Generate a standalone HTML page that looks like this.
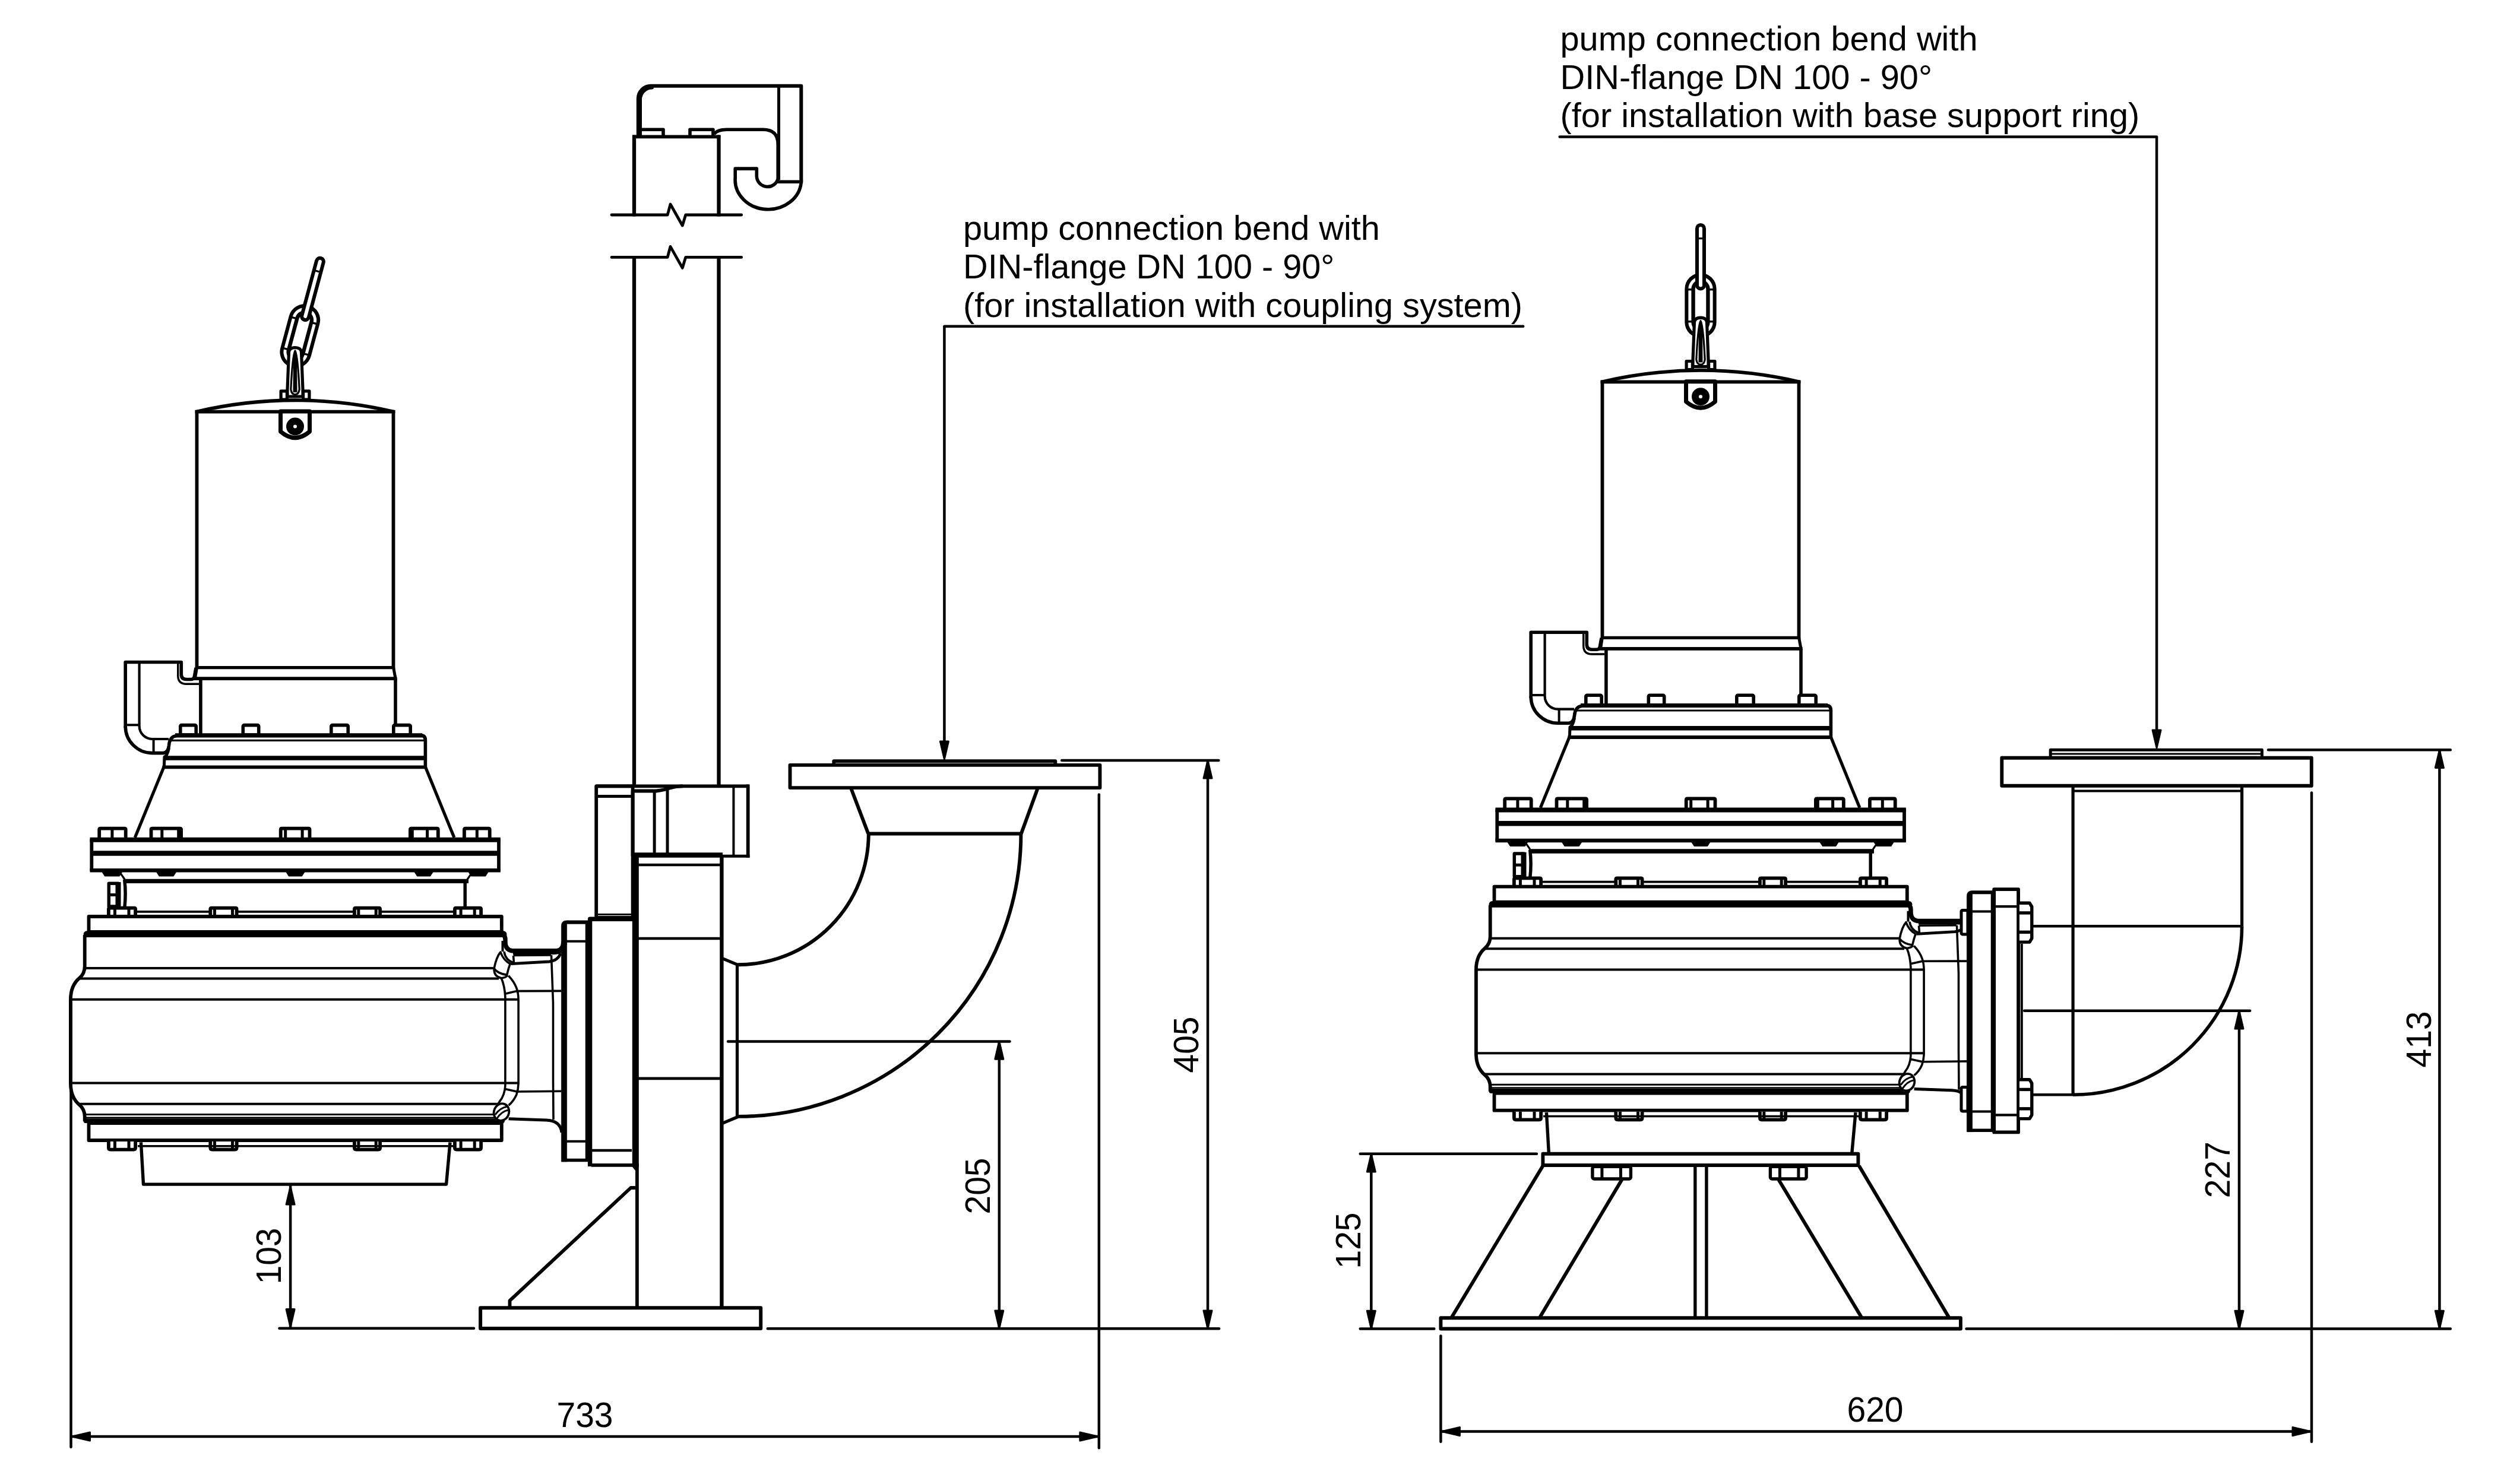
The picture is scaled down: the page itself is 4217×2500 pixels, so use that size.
<!DOCTYPE html>
<html><head><meta charset="utf-8"><title>Pump installation dimensions</title>
<style>
html,body{margin:0;padding:0;background:#fff;}
svg{display:block;}
text{font-family:"Liberation Sans",Arial,Helvetica,sans-serif;}
</style></head>
<body>
<svg width="4217" height="2500" viewBox="0 0 4217 2500" stroke="#000" fill="none" stroke-linejoin="round">
<rect x="0" y="0" width="4217" height="2500" fill="#fff" stroke="none"/>
<g id="left">
<g transform="translate(0 0)">
<rect x="473.1" y="658.8" width="10.3" height="14.2" rx="0" stroke-width="5.2" fill="#fff"/>
<rect x="510.6" y="658.8" width="10.3" height="14.2" rx="0" stroke-width="5.2" fill="#fff"/>
<g transform="rotate(15 497 597)">
<line x1="497" y1="537" x2="497" y2="593" stroke="#000" stroke-width="53.3" stroke-linecap="round"/>
<line x1="497" y1="537" x2="497" y2="593" stroke="#fff" stroke-width="41.2" stroke-linecap="round"/>
<line x1="497" y1="537" x2="497" y2="593" stroke="#000" stroke-width="31.2" stroke-linecap="round"/>
<line x1="497" y1="537" x2="497" y2="593" stroke="#fff" stroke-width="18.5" stroke-linecap="round"/>
<line x1="471.0" y1="538.0" x2="485.0" y2="538.0" stroke-width="3.4" stroke-linecap="butt"/>
<line x1="509.0" y1="538.0" x2="523.0" y2="538.0" stroke-width="3.4" stroke-linecap="butt"/>
<line x1="471.0" y1="592.0" x2="485.0" y2="592.0" stroke-width="3.4" stroke-linecap="butt"/>
<line x1="509.0" y1="592.0" x2="523.0" y2="592.0" stroke-width="3.4" stroke-linecap="butt"/>
<line x1="497" y1="435.2" x2="497" y2="530.7" stroke="#000" stroke-width="18" stroke-linecap="round"/>
<line x1="497" y1="435.2" x2="497" y2="530.7" stroke="#fff" stroke-width="6" stroke-linecap="round"/>
<line x1="493.0" y1="452.0" x2="501.0" y2="452.0" stroke-width="3.2" stroke-linecap="butt"/>
</g>
<path d="M484,656 L486.5,593 Q487,586 497,585.5 Q507,586 507.5,593 L510,656 L510,668 L484,668 Z" stroke-width="5.2" fill="#fff" />
<path d="M497,591 Q492.5,600 489.8,656 Q491,664.5 497,664.5 Q503,664.5 504.2,656 Q501.5,600 497,591 Z" stroke-width="3.2" fill="#fff" />
<path d="M497,594 L494.8,612 L494.4,660 L499.6,660 L499.2,612 Z" stroke-width="1.8" fill="#000" />
<path d="M331,693.5 Q497,655 663,693.5" stroke-width="5.8" fill="#fff" />
<line x1="328.6" y1="693.7" x2="665.4" y2="693.7" stroke-width="5.8" stroke-linecap="butt"/>
<line x1="331.5" y1="691.0" x2="331.5" y2="1127.0" stroke-width="5.8" stroke-linecap="butt"/>
<line x1="662.5" y1="691.0" x2="662.5" y2="1127.0" stroke-width="5.8" stroke-linecap="butt"/>
<path d="M472.5,693 L472.5,727 Q497,748 521.5,727 L521.5,693 Z" stroke-width="7" fill="#fff" />
<circle cx="497" cy="718.5" r="15" fill="#000" stroke="none"/>
<circle cx="497" cy="718.5" r="3" fill="#fff" stroke="none"/>
<line x1="331.0" y1="1124.7" x2="663.0" y2="1124.7" stroke-width="5.2" stroke-linecap="butt"/>
<line x1="331.5" y1="1124.0" x2="328.5" y2="1143.0" stroke-width="5" stroke-linecap="butt"/>
<line x1="662.5" y1="1124.0" x2="666.0" y2="1143.0" stroke-width="5" stroke-linecap="butt"/>
<line x1="326.0" y1="1143.2" x2="668.5" y2="1143.2" stroke-width="5.8" stroke-linecap="butt"/>
<line x1="337.9" y1="1143.0" x2="337.9" y2="1237.0" stroke-width="5.6" stroke-linecap="butt"/>
<line x1="666.0" y1="1143.0" x2="666.0" y2="1237.0" stroke-width="5.6" stroke-linecap="butt"/>
<path d="M211.2,1226 L211.2,1115.5 L305.3,1115.5 L305.3,1136 Q305.3,1144.5 314,1144.5 L322,1144.5 Q326.5,1144.5 327.5,1139 L330,1125" stroke-width="5.6" fill="none" />
<path d="M211.2,1223.5 A45.3,45.1 0 0 0 256.5,1268.6 L275,1268.6 Q283,1268 284.5,1256 Q285.5,1241 297,1239.5" stroke-width="5.6" fill="none" />
<path d="M299.7,1117 L299.7,1138 Q299.7,1152.3 314,1152.3 L335,1152.3" stroke-width="3.4" fill="none" />
<path d="M234.6,1117 L234.6,1223 A21.9,22 0 0 0 256.5,1245 L284,1245" stroke-width="4.2" fill="none" />
<line x1="211.0" y1="1221.3" x2="235.0" y2="1221.3" stroke-width="4" stroke-linecap="butt"/>
<line x1="258.6" y1="1245.0" x2="258.6" y2="1268.0" stroke-width="4" stroke-linecap="butt"/>
<rect x="303.8" y="1221.6" width="26.4" height="16.4" rx="2" stroke-width="5.6" fill="#fff"/>
<rect x="409.3" y="1221.6" width="26.4" height="16.4" rx="2" stroke-width="5.6" fill="#fff"/>
<rect x="557.8" y="1221.6" width="28.4" height="16.4" rx="2" stroke-width="5.6" fill="#fff"/>
<rect x="662.8" y="1221.6" width="28.4" height="16.4" rx="2" stroke-width="5.6" fill="#fff"/>
<line x1="295.0" y1="1238.8" x2="711.0" y2="1238.8" stroke-width="7.2" stroke-linecap="butt"/>
<path d="M708,1238.6 Q716.4,1238.6 716.4,1247 L716.4,1293" stroke-width="5.6" fill="none" />
<line x1="288.0" y1="1247.3" x2="716.0" y2="1247.3" stroke-width="3.2" stroke-linecap="butt"/>
<line x1="276.0" y1="1277.0" x2="718.5" y2="1277.0" stroke-width="7.5" stroke-linecap="butt"/>
<line x1="273.5" y1="1292.3" x2="719.0" y2="1292.3" stroke-width="5.8" stroke-linecap="butt"/>
<path d="M284.5,1260 Q282,1273 277,1275 L276.3,1293" stroke-width="5" fill="none" />
<line x1="276.0" y1="1292.0" x2="227.3" y2="1411.0" stroke-width="5.2" stroke-linecap="butt"/>
<line x1="716.4" y1="1292.0" x2="764.9" y2="1411.0" stroke-width="5.2" stroke-linecap="butt"/>
<path d="M167.20000000000002,1412 L167.20000000000002,1397.6000000000001 Q167.20000000000002,1395.6000000000001 169.20000000000002,1395.6000000000001 L209.7,1395.6000000000001 Q211.7,1395.6000000000001 211.7,1397.6000000000001 L211.7,1412" stroke-width="5.8" fill="#fff" />
<line x1="188.9" y1="1395.6" x2="188.9" y2="1412.0" stroke-width="5" stroke-linecap="butt"/>
<path d="M254.5,1412 L254.5,1397.6000000000001 Q254.5,1395.6000000000001 256.5,1395.6000000000001 L303.1,1395.6000000000001 Q305.1,1395.6000000000001 305.1,1397.6000000000001 L305.1,1412" stroke-width="5.8" fill="#fff" />
<line x1="272.8" y1="1395.6" x2="272.8" y2="1412.0" stroke-width="5" stroke-linecap="butt"/>
<line x1="300.7" y1="1395.6" x2="300.7" y2="1412.0" stroke-width="5" stroke-linecap="butt"/>
<path d="M472.7,1412 L472.7,1397.6000000000001 Q472.7,1395.6000000000001 474.7,1395.6000000000001 L519.5,1395.6000000000001 Q521.5,1395.6000000000001 521.5,1397.6000000000001 L521.5,1412" stroke-width="5.8" fill="#fff" />
<line x1="480.7" y1="1395.6" x2="480.7" y2="1412.0" stroke-width="5" stroke-linecap="butt"/>
<line x1="509.1" y1="1395.6" x2="509.1" y2="1412.0" stroke-width="5" stroke-linecap="butt"/>
<path d="M690.9,1412 L690.9,1397.6000000000001 Q690.9,1395.6000000000001 692.9,1395.6000000000001 L735.8000000000001,1395.6000000000001 Q737.8000000000001,1395.6000000000001 737.8000000000001,1397.6000000000001 L737.8000000000001,1412" stroke-width="5.8" fill="#fff" />
<line x1="694.3" y1="1395.6" x2="694.3" y2="1412.0" stroke-width="5" stroke-linecap="butt"/>
<line x1="719.6" y1="1395.6" x2="719.6" y2="1412.0" stroke-width="5" stroke-linecap="butt"/>
<path d="M781.9,1412 L781.9,1397.6000000000001 Q781.9,1395.6000000000001 783.9,1395.6000000000001 L822.7,1395.6000000000001 Q824.7,1395.6000000000001 824.7,1397.6000000000001 L824.7,1412" stroke-width="5.8" fill="#fff" />
<line x1="803.3" y1="1395.6" x2="803.3" y2="1412.0" stroke-width="5" stroke-linecap="butt"/>
<rect x="154.3" y="1414.8" width="685.7" height="51.3" rx="0" stroke-width="5.8" fill="#fff"/>
<line x1="151.5" y1="1414.8" x2="842.8" y2="1414.8" stroke-width="7.9" stroke-linecap="butt"/>
<line x1="154.0" y1="1437.6" x2="840.0" y2="1437.6" stroke-width="8.5" stroke-linecap="butt"/>
<line x1="151.5" y1="1466.3" x2="842.8" y2="1466.3" stroke-width="6.4" stroke-linecap="butt"/>
<path d="M172.1,1468.5 L205.5,1468.5 L201.0,1475.6 L176.6,1475.6 Z" stroke-width="1.6" fill="#000" />
<path d="M263.7,1468.5 L296.5,1468.5 L292.0,1475.6 L268.2,1475.6 Z" stroke-width="1.6" fill="#000" />
<path d="M482,1468.5 L512.8,1468.5 L508.29999999999995,1475.6 L486.5,1475.6 Z" stroke-width="1.6" fill="#000" />
<path d="M698.2,1468.5 L729,1468.5 L724.5,1475.6 L702.7,1475.6 Z" stroke-width="1.6" fill="#000" />
<path d="M789.2,1468.5 L822,1468.5 L817.5,1475.6 L793.7,1475.6 Z" stroke-width="1.6" fill="#000" />
<line x1="207.9" y1="1484.3" x2="789.0" y2="1484.3" stroke-width="7.3" stroke-linecap="butt"/>
<line x1="203.5" y1="1472.0" x2="210.0" y2="1481.5" stroke-width="3.2" stroke-linecap="butt"/>
<line x1="793.5" y1="1472.0" x2="787.0" y2="1481.5" stroke-width="3.2" stroke-linecap="butt"/>
<path d="M209.7,1482 Q212.5,1505 209.7,1530" stroke-width="5.5" fill="none" />
<line x1="783.2" y1="1482.0" x2="783.2" y2="1530.0" stroke-width="5.5" stroke-linecap="butt"/>
<line x1="231.0" y1="1535.9" x2="763.0" y2="1535.9" stroke-width="3.6" stroke-linecap="butt"/>
<rect x="183.3" y="1488.2" width="15.7" height="38.8" rx="0" stroke-width="5.5" fill="#fff"/>
<line x1="199.0" y1="1486.0" x2="199.0" y2="1529.0" stroke-width="9" stroke-linecap="butt"/>
<line x1="184.0" y1="1507.5" x2="196.0" y2="1507.5" stroke-width="5" stroke-linecap="butt"/>
<path d="M182.9,1542 L182.9,1531.7 Q182.9,1529.7 184.9,1529.7 L226.1,1529.7 Q228.1,1529.7 228.1,1531.7 L228.1,1542" stroke-width="5.8" fill="#fff" />
<line x1="193.4" y1="1529.7" x2="193.4" y2="1542.0" stroke-width="5" stroke-linecap="butt"/>
<line x1="217.0" y1="1529.7" x2="217.0" y2="1542.0" stroke-width="5" stroke-linecap="butt"/>
<path d="M354.29999999999995,1542 L354.29999999999995,1531.7 Q354.29999999999995,1529.7 356.29999999999995,1529.7 L396.6,1529.7 Q398.6,1529.7 398.6,1531.7 L398.6,1542" stroke-width="5.8" fill="#fff" />
<line x1="361.4" y1="1529.7" x2="361.4" y2="1542.0" stroke-width="5" stroke-linecap="butt"/>
<line x1="391.5" y1="1529.7" x2="391.5" y2="1542.0" stroke-width="5" stroke-linecap="butt"/>
<path d="M596.9,1542 L596.9,1531.7 Q596.9,1529.7 598.9,1529.7 L638.1,1529.7 Q640.1,1529.7 640.1,1531.7 L640.1,1542" stroke-width="5.8" fill="#fff" />
<line x1="603.8" y1="1529.7" x2="603.8" y2="1542.0" stroke-width="5" stroke-linecap="butt"/>
<line x1="633.2" y1="1529.7" x2="633.2" y2="1542.0" stroke-width="5" stroke-linecap="butt"/>
<path d="M765.9,1542 L765.9,1531.7 Q765.9,1529.7 767.9,1529.7 L808.1,1529.7 Q810.1,1529.7 810.1,1531.7 L810.1,1542" stroke-width="5.8" fill="#fff" />
<line x1="776.1" y1="1529.7" x2="776.1" y2="1542.0" stroke-width="5" stroke-linecap="butt"/>
<line x1="799.2" y1="1529.7" x2="799.2" y2="1542.0" stroke-width="5" stroke-linecap="butt"/>
<rect x="149.5" y="1544.0" width="695.3" height="26.0" rx="0" stroke-width="5.8" fill="#fff"/>
<line x1="146.0" y1="1573.7" x2="848.0" y2="1573.7" stroke-width="10.8" stroke-linecap="round"/>
<path d="M142.7,1575 L142.7,1628 Q142.7,1640 134,1647.5 Q118.9,1660 118.9,1684 L118.9,1825 Q118.9,1849 134,1861.5 Q142.7,1869 142.7,1881 L142.7,1889" stroke-width="5.8" fill="#fff" />
<line x1="142.0" y1="1631.0" x2="832.0" y2="1631.0" stroke-width="4.0" stroke-linecap="butt"/>
<line x1="134.0" y1="1648.5" x2="840.0" y2="1648.5" stroke-width="4.0" stroke-linecap="butt"/>
<line x1="118.9" y1="1683.8" x2="873.0" y2="1683.8" stroke-width="4.0" stroke-linecap="butt"/>
<line x1="118.9" y1="1824.6" x2="873.0" y2="1824.6" stroke-width="4.0" stroke-linecap="butt"/>
<line x1="134.0" y1="1859.7" x2="840.0" y2="1859.7" stroke-width="4.0" stroke-linecap="butt"/>
<line x1="142.0" y1="1877.5" x2="838.0" y2="1877.5" stroke-width="3" stroke-linecap="butt"/>
<line x1="142.0" y1="1882.8" x2="838.0" y2="1882.8" stroke-width="2.6" stroke-linecap="butt"/>
<line x1="144.5" y1="1888.2" x2="846.0" y2="1888.2" stroke-width="7.8" stroke-linecap="round"/>
<rect x="149.5" y="1892.0" width="695.3" height="29.0" rx="0" stroke-width="5.8" fill="#fff"/>
<path d="M182.9,1923 L182.9,1933.6 Q182.9,1936.6 185.9,1936.6 L225.1,1936.6 Q228.1,1936.6 228.1,1933.6 L228.1,1923" stroke-width="5.8" fill="#fff" />
<line x1="193.4" y1="1923.0" x2="193.4" y2="1936.6" stroke-width="5" stroke-linecap="butt"/>
<line x1="217.0" y1="1923.0" x2="217.0" y2="1936.6" stroke-width="5" stroke-linecap="butt"/>
<path d="M354.29999999999995,1923 L354.29999999999995,1933.6 Q354.29999999999995,1936.6 357.29999999999995,1936.6 L395.6,1936.6 Q398.6,1936.6 398.6,1933.6 L398.6,1923" stroke-width="5.8" fill="#fff" />
<line x1="361.4" y1="1923.0" x2="361.4" y2="1936.6" stroke-width="5" stroke-linecap="butt"/>
<line x1="391.5" y1="1923.0" x2="391.5" y2="1936.6" stroke-width="5" stroke-linecap="butt"/>
<path d="M596.9,1923 L596.9,1933.6 Q596.9,1936.6 599.9,1936.6 L637.1,1936.6 Q640.1,1936.6 640.1,1933.6 L640.1,1923" stroke-width="5.8" fill="#fff" />
<line x1="603.8" y1="1923.0" x2="603.8" y2="1936.6" stroke-width="5" stroke-linecap="butt"/>
<line x1="633.2" y1="1923.0" x2="633.2" y2="1936.6" stroke-width="5" stroke-linecap="butt"/>
<path d="M765.9,1923 L765.9,1933.6 Q765.9,1936.6 768.9,1936.6 L807.1,1936.6 Q810.1,1936.6 810.1,1933.6 L810.1,1923" stroke-width="5.8" fill="#fff" />
<line x1="776.1" y1="1923.0" x2="776.1" y2="1936.6" stroke-width="5" stroke-linecap="butt"/>
<line x1="799.2" y1="1923.0" x2="799.2" y2="1936.6" stroke-width="5" stroke-linecap="butt"/>
<path d="M237.4,1924.4 L241.5,1995.1 L751.6,1995.1 L758,1924.4" stroke-width="5.4" fill="none" />
<line x1="232.0" y1="1930.8" x2="763.0" y2="1930.8" stroke-width="3.4" stroke-linecap="butt"/>
<path d="M843,1573.7 Q851,1573.7 851,1583 L851,1587 Q851,1602 866,1602" stroke-width="7.4" fill="none" />
<path d="M864,1603 L934,1603 Q950,1603 950,1586" stroke-width="9.8" fill="none" />
<line x1="846.5" y1="1585.0" x2="846.5" y2="1603.0" stroke-width="4" stroke-linecap="butt"/>
<path d="M842.9,1604 Q836,1612 832.1,1631.6 Q838,1640 853.7,1642.4 Q856,1632 859.1,1623.6 Q848,1618 842.9,1604 Z" stroke-width="3.6" fill="none" />
<path d="M849,1603 Q851,1617 864.5,1622" stroke-width="3.6" fill="none" />
<path d="M864.5,1609.5 L927.8,1609" stroke-width="3.6" fill="none" />
<path d="M860.4,1623.6 L925,1620 Q940,1618 944,1606" stroke-width="4.8" fill="none" />
<path d="M864.5,1610 L865.5,1622" stroke-width="3.6" fill="none" />
<path d="M832.1,1633 Q832,1645 844.3,1647.8 Q852,1647 855,1643" stroke-width="3.6" fill="none" />
<path d="M844.3,1647.8 Q850,1661 850.9,1680 L850.9,1829 Q850,1845 841.5,1855.5 Q836,1864 832.5,1871" stroke-width="3.6" fill="none" />
<path d="M856.4,1643.8 Q866,1654 869.8,1664.4 Q873,1673 873.1,1684 L873.1,1825 Q873,1835 869.8,1844.2 Q865,1855 856.6,1862" stroke-width="3.6" fill="none" />
<path d="M851.4,1673.9 L870.8,1669.6 L945.5,1669.4" stroke-width="3.6" fill="none" />
<path d="M851.4,1834.7 L870.8,1839 L945.5,1838.2" stroke-width="3.6" fill="none" />
<path d="M928.5,1609 Q930,1650 931.5,1690 L931.5,1820 Q931.8,1860 932,1886" stroke-width="3.6" fill="none" />
<ellipse cx="844.5" cy="1873.5" rx="12.6" ry="14.5" fill="#fff" stroke-width="3.8" transform="rotate(20 844.5 1873.5)"/>
<path d="M834,1878 Q842,1866 855,1864" stroke-width="3" fill="none" />
<path d="M837,1884 Q845,1872 856,1870" stroke-width="3" fill="none" />
<path d="M856.6,1884.7 L920,1887 Q944,1888 946,1908" stroke-width="5.0" fill="none" />
<line x1="845.1" y1="1889.0" x2="845.1" y2="1892.0" stroke-width="5" stroke-linecap="butt"/>
<path d="M945.3,1957 L945.3,1560 Q945.3,1550.8 954.5,1550.8 L990,1550.8 L990,1556.4 L954.7,1556.4 L954.7,1957 Z" stroke-width="0.5" fill="#000" />
<line x1="954.0" y1="1585.8" x2="988.0" y2="1585.8" stroke-width="4" stroke-linecap="butt"/>
<line x1="954.0" y1="1922.8" x2="988.0" y2="1922.8" stroke-width="4" stroke-linecap="butt"/>
<line x1="988.0" y1="1551.0" x2="988.0" y2="1956.5" stroke-width="4.5" stroke-linecap="butt"/>
<line x1="946.0" y1="1954.6" x2="990.0" y2="1954.6" stroke-width="5.5" stroke-linecap="butt"/>
</g>
<rect x="1004.2" y="1324.3" width="61.4" height="221.7" rx="0" stroke-width="5.8" fill="none"/>
<line x1="1004.0" y1="1341.5" x2="1066.0" y2="1341.5" stroke-width="5" stroke-linecap="butt"/>
<line x1="1004.0" y1="1540.5" x2="1066.0" y2="1540.5" stroke-width="3" stroke-linecap="butt"/>
<path d="M993.6,1965 L993.6,1548.3 L1066,1548.3" stroke-width="7.4" fill="none" />
<line x1="996.0" y1="1962.8" x2="1066.0" y2="1962.8" stroke-width="5.8" stroke-linecap="butt"/>
<line x1="996.0" y1="1937.9" x2="1064.0" y2="1937.9" stroke-width="4.5" stroke-linecap="butt"/>
<path d="M1004,1324.3 L1261,1324.3" stroke-width="5.8" fill="none" />
<path d="M1065.6,1442 L1065.6,1332.5 L1105,1332.5 Q1118,1331 1128,1327.5 Q1138,1324.5 1150,1324.3" stroke-width="5.8" fill="none" />
<line x1="1259.7" y1="1321.5" x2="1259.7" y2="1445.0" stroke-width="5.8" stroke-linecap="butt"/>
<line x1="1063.0" y1="1440.5" x2="1217.0" y2="1440.5" stroke-width="8.5" stroke-linecap="butt"/>
<line x1="1215.0" y1="1442.2" x2="1262.5" y2="1442.2" stroke-width="5" stroke-linecap="butt"/>
<line x1="1102.1" y1="1333.0" x2="1102.1" y2="1438.0" stroke-width="5" stroke-linecap="butt"/>
<line x1="1124.0" y1="1330.0" x2="1124.0" y2="1438.0" stroke-width="5" stroke-linecap="butt"/>
<line x1="1235.4" y1="1326.0" x2="1235.4" y2="1441.0" stroke-width="4" stroke-linecap="butt"/>
<line x1="1070.3" y1="1442.0" x2="1070.3" y2="1966.0" stroke-width="11" stroke-linecap="butt"/>
<path d="M1065.5,1962 L1072.9,1971" stroke-width="5.8" fill="none" />
<line x1="1072.9" y1="1960.0" x2="1072.9" y2="2203.0" stroke-width="5.8" stroke-linecap="butt"/>
<line x1="1215.4" y1="1442.0" x2="1215.4" y2="2203.0" stroke-width="6.4" stroke-linecap="butt"/>
<line x1="1075.0" y1="1457.0" x2="1215.0" y2="1457.0" stroke-width="4.6" stroke-linecap="butt"/>
<line x1="1075.0" y1="1581.0" x2="1215.0" y2="1581.0" stroke-width="4.6" stroke-linecap="butt"/>
<line x1="1075.0" y1="1816.9" x2="1215.0" y2="1816.9" stroke-width="4.6" stroke-linecap="butt"/>
<line x1="1068.0" y1="227.5" x2="1068.0" y2="364.5" stroke-width="6.3" stroke-linecap="butt"/>
<line x1="1210.5" y1="227.5" x2="1210.5" y2="364.5" stroke-width="6.3" stroke-linecap="butt"/>
<line x1="1068.0" y1="431.0" x2="1068.0" y2="1324.3" stroke-width="6.3" stroke-linecap="butt"/>
<line x1="1210.5" y1="431.0" x2="1210.5" y2="1324.3" stroke-width="6.3" stroke-linecap="butt"/>
<line x1="1065.3" y1="230.4" x2="1213.3" y2="230.4" stroke-width="5.6" stroke-linecap="butt"/>
<path d="M1030,362 L1124.2,362 L1129,344 L1149.3,380 L1154.7,362 L1248.7,362" stroke-width="4.8" fill="none" stroke-linecap="round" stroke-linejoin="round"/>
<path d="M1030,433.4 L1124.2,433.4 L1129,415.4 L1149.3,451.4 L1154.7,433.4 L1248.7,433.4" stroke-width="4.8" fill="none" stroke-linecap="round" stroke-linejoin="round"/>
<path d="M1076,218.2 L1117,218.2 L1117,230" stroke-width="5.6" fill="none" />
<path d="M1162,230 L1162,218.2 L1200.9,218.2 L1200.9,230" stroke-width="5.6" fill="none" />
<path d="M1074.8,230 L1074.8,166 A21.2,21.2 0 0 1 1096,144.8 L1349.3,144.8 L1349.3,306.2" stroke-width="6" fill="none" />
<path d="M1078,230 L1078,168 A20,20 0 0 1 1098,147.5" stroke-width="6" fill="none" stroke-linecap="round"/>
<line x1="1311.5" y1="145.0" x2="1311.5" y2="303.0" stroke-width="5" stroke-linecap="butt"/>
<line x1="1309.0" y1="306.2" x2="1352.2" y2="306.2" stroke-width="5.6" stroke-linecap="butt"/>
<path d="M1202.7,226 Q1208,218.2 1224,218.2 L1285,218.2 Q1310.2,218.2 1310.2,243 L1310.2,300" stroke-width="5.6" fill="none" />
<path d="M1349.3,306.2 A55.5,49.5 0 0 1 1238.2,300 L1238.2,284.1 L1274.3,284.1 L1274.3,297 A18.3,18.3 0 0 0 1310.5,300" stroke-width="5.6" fill="none" />
<rect x="809.1" y="2203.2" width="472.1" height="34.9" rx="0" stroke-width="6" fill="none"/>
<path d="M858.5,2203 L858.5,2191.1 L1062.3,2001 L1073,2001" stroke-width="5.8" fill="none" />
<rect x="1330.5" y="1288.9" width="521.9" height="38.2" rx="0" stroke-width="5.9" fill="#fff"/>
<path d="M1404.3,1287 L1404.3,1282.2 L1777.3,1282.2 L1777.3,1287" stroke-width="5.9" fill="none" />
<line x1="1433.2" y1="1328.0" x2="1462.3" y2="1404.5" stroke-width="5.9" stroke-linecap="butt"/>
<line x1="1747.6" y1="1328.0" x2="1719.8" y2="1404.5" stroke-width="5.9" stroke-linecap="butt"/>
<line x1="1462.3" y1="1404.5" x2="1719.8" y2="1404.5" stroke-width="5.9" stroke-linecap="butt"/>
<path d="M1462.8,1404.5 A220.3,220.8 0 0 1 1242.5,1625.3" stroke-width="5.9" fill="none" />
<path d="M1719.4,1404.5 A476.9,476.4 0 0 1 1242.5,1880.9" stroke-width="5.9" fill="none" />
<line x1="1241.5" y1="1624.0" x2="1241.5" y2="1882.5" stroke-width="5.2" stroke-linecap="butt"/>
<line x1="1216.0" y1="1614.4" x2="1242.5" y2="1625.3" stroke-width="5.2" stroke-linecap="butt"/>
<line x1="1216.0" y1="1892.7" x2="1242.5" y2="1881.5" stroke-width="5.2" stroke-linecap="butt"/>
</g>
<g id="right">
<g transform="translate(2367 -50.3)">
<rect x="473.1" y="658.8" width="10.3" height="14.2" rx="0" stroke-width="5.2" fill="#fff"/>
<rect x="510.6" y="658.8" width="10.3" height="14.2" rx="0" stroke-width="5.2" fill="#fff"/>
<g transform="rotate(0 497 597)">
<line x1="497" y1="537" x2="497" y2="593" stroke="#000" stroke-width="53.3" stroke-linecap="round"/>
<line x1="497" y1="537" x2="497" y2="593" stroke="#fff" stroke-width="41.2" stroke-linecap="round"/>
<line x1="497" y1="537" x2="497" y2="593" stroke="#000" stroke-width="31.2" stroke-linecap="round"/>
<line x1="497" y1="537" x2="497" y2="593" stroke="#fff" stroke-width="18.5" stroke-linecap="round"/>
<line x1="471.0" y1="538.0" x2="485.0" y2="538.0" stroke-width="3.4" stroke-linecap="butt"/>
<line x1="509.0" y1="538.0" x2="523.0" y2="538.0" stroke-width="3.4" stroke-linecap="butt"/>
<line x1="471.0" y1="592.0" x2="485.0" y2="592.0" stroke-width="3.4" stroke-linecap="butt"/>
<line x1="509.0" y1="592.0" x2="523.0" y2="592.0" stroke-width="3.4" stroke-linecap="butt"/>
<line x1="497" y1="435.2" x2="497" y2="530.7" stroke="#000" stroke-width="18" stroke-linecap="round"/>
<line x1="497" y1="435.2" x2="497" y2="530.7" stroke="#fff" stroke-width="6" stroke-linecap="round"/>
<line x1="493.0" y1="452.0" x2="501.0" y2="452.0" stroke-width="3.2" stroke-linecap="butt"/>
</g>
<path d="M484,656 L486.5,593 Q487,586 497,585.5 Q507,586 507.5,593 L510,656 L510,668 L484,668 Z" stroke-width="5.2" fill="#fff" />
<path d="M497,591 Q492.5,600 489.8,656 Q491,664.5 497,664.5 Q503,664.5 504.2,656 Q501.5,600 497,591 Z" stroke-width="3.2" fill="#fff" />
<path d="M497,594 L494.8,612 L494.4,660 L499.6,660 L499.2,612 Z" stroke-width="1.8" fill="#000" />
<path d="M331,693.5 Q497,655 663,693.5" stroke-width="5.8" fill="#fff" />
<line x1="328.6" y1="693.7" x2="665.4" y2="693.7" stroke-width="5.8" stroke-linecap="butt"/>
<line x1="331.5" y1="691.0" x2="331.5" y2="1127.0" stroke-width="5.8" stroke-linecap="butt"/>
<line x1="662.5" y1="691.0" x2="662.5" y2="1127.0" stroke-width="5.8" stroke-linecap="butt"/>
<path d="M472.5,693 L472.5,727 Q497,748 521.5,727 L521.5,693 Z" stroke-width="7" fill="#fff" />
<circle cx="497" cy="718.5" r="15" fill="#000" stroke="none"/>
<circle cx="497" cy="718.5" r="3" fill="#fff" stroke="none"/>
<line x1="331.0" y1="1124.7" x2="663.0" y2="1124.7" stroke-width="5.2" stroke-linecap="butt"/>
<line x1="331.5" y1="1124.0" x2="328.5" y2="1143.0" stroke-width="5" stroke-linecap="butt"/>
<line x1="662.5" y1="1124.0" x2="666.0" y2="1143.0" stroke-width="5" stroke-linecap="butt"/>
<line x1="326.0" y1="1143.2" x2="668.5" y2="1143.2" stroke-width="5.8" stroke-linecap="butt"/>
<line x1="337.9" y1="1143.0" x2="337.9" y2="1237.0" stroke-width="5.6" stroke-linecap="butt"/>
<line x1="666.0" y1="1143.0" x2="666.0" y2="1237.0" stroke-width="5.6" stroke-linecap="butt"/>
<path d="M211.2,1226 L211.2,1115.5 L305.3,1115.5 L305.3,1136 Q305.3,1144.5 314,1144.5 L322,1144.5 Q326.5,1144.5 327.5,1139 L330,1125" stroke-width="5.6" fill="none" />
<path d="M211.2,1223.5 A45.3,45.1 0 0 0 256.5,1268.6 L275,1268.6 Q283,1268 284.5,1256 Q285.5,1241 297,1239.5" stroke-width="5.6" fill="none" />
<path d="M299.7,1117 L299.7,1138 Q299.7,1152.3 314,1152.3 L335,1152.3" stroke-width="3.4" fill="none" />
<path d="M234.6,1117 L234.6,1223 A21.9,22 0 0 0 256.5,1245 L284,1245" stroke-width="4.2" fill="none" />
<line x1="211.0" y1="1221.3" x2="235.0" y2="1221.3" stroke-width="4" stroke-linecap="butt"/>
<line x1="258.6" y1="1245.0" x2="258.6" y2="1268.0" stroke-width="4" stroke-linecap="butt"/>
<rect x="303.8" y="1221.6" width="26.4" height="16.4" rx="2" stroke-width="5.6" fill="#fff"/>
<rect x="409.3" y="1221.6" width="26.4" height="16.4" rx="2" stroke-width="5.6" fill="#fff"/>
<rect x="557.8" y="1221.6" width="28.4" height="16.4" rx="2" stroke-width="5.6" fill="#fff"/>
<rect x="662.8" y="1221.6" width="28.4" height="16.4" rx="2" stroke-width="5.6" fill="#fff"/>
<line x1="295.0" y1="1238.8" x2="711.0" y2="1238.8" stroke-width="7.2" stroke-linecap="butt"/>
<path d="M708,1238.6 Q716.4,1238.6 716.4,1247 L716.4,1293" stroke-width="5.6" fill="none" />
<line x1="288.0" y1="1247.3" x2="716.0" y2="1247.3" stroke-width="3.2" stroke-linecap="butt"/>
<line x1="276.0" y1="1277.0" x2="718.5" y2="1277.0" stroke-width="7.5" stroke-linecap="butt"/>
<line x1="273.5" y1="1292.3" x2="719.0" y2="1292.3" stroke-width="5.8" stroke-linecap="butt"/>
<path d="M284.5,1260 Q282,1273 277,1275 L276.3,1293" stroke-width="5" fill="none" />
<line x1="276.0" y1="1292.0" x2="227.3" y2="1411.0" stroke-width="5.2" stroke-linecap="butt"/>
<line x1="716.4" y1="1292.0" x2="764.9" y2="1411.0" stroke-width="5.2" stroke-linecap="butt"/>
<path d="M167.20000000000002,1412 L167.20000000000002,1397.6000000000001 Q167.20000000000002,1395.6000000000001 169.20000000000002,1395.6000000000001 L209.7,1395.6000000000001 Q211.7,1395.6000000000001 211.7,1397.6000000000001 L211.7,1412" stroke-width="5.8" fill="#fff" />
<line x1="188.9" y1="1395.6" x2="188.9" y2="1412.0" stroke-width="5" stroke-linecap="butt"/>
<path d="M254.5,1412 L254.5,1397.6000000000001 Q254.5,1395.6000000000001 256.5,1395.6000000000001 L303.1,1395.6000000000001 Q305.1,1395.6000000000001 305.1,1397.6000000000001 L305.1,1412" stroke-width="5.8" fill="#fff" />
<line x1="272.8" y1="1395.6" x2="272.8" y2="1412.0" stroke-width="5" stroke-linecap="butt"/>
<line x1="300.7" y1="1395.6" x2="300.7" y2="1412.0" stroke-width="5" stroke-linecap="butt"/>
<path d="M472.7,1412 L472.7,1397.6000000000001 Q472.7,1395.6000000000001 474.7,1395.6000000000001 L519.5,1395.6000000000001 Q521.5,1395.6000000000001 521.5,1397.6000000000001 L521.5,1412" stroke-width="5.8" fill="#fff" />
<line x1="480.7" y1="1395.6" x2="480.7" y2="1412.0" stroke-width="5" stroke-linecap="butt"/>
<line x1="509.1" y1="1395.6" x2="509.1" y2="1412.0" stroke-width="5" stroke-linecap="butt"/>
<path d="M690.9,1412 L690.9,1397.6000000000001 Q690.9,1395.6000000000001 692.9,1395.6000000000001 L735.8000000000001,1395.6000000000001 Q737.8000000000001,1395.6000000000001 737.8000000000001,1397.6000000000001 L737.8000000000001,1412" stroke-width="5.8" fill="#fff" />
<line x1="694.3" y1="1395.6" x2="694.3" y2="1412.0" stroke-width="5" stroke-linecap="butt"/>
<line x1="719.6" y1="1395.6" x2="719.6" y2="1412.0" stroke-width="5" stroke-linecap="butt"/>
<path d="M781.9,1412 L781.9,1397.6000000000001 Q781.9,1395.6000000000001 783.9,1395.6000000000001 L822.7,1395.6000000000001 Q824.7,1395.6000000000001 824.7,1397.6000000000001 L824.7,1412" stroke-width="5.8" fill="#fff" />
<line x1="803.3" y1="1395.6" x2="803.3" y2="1412.0" stroke-width="5" stroke-linecap="butt"/>
<rect x="154.3" y="1414.8" width="685.7" height="51.3" rx="0" stroke-width="5.8" fill="#fff"/>
<line x1="151.5" y1="1414.8" x2="842.8" y2="1414.8" stroke-width="7.9" stroke-linecap="butt"/>
<line x1="154.0" y1="1437.6" x2="840.0" y2="1437.6" stroke-width="8.5" stroke-linecap="butt"/>
<line x1="151.5" y1="1466.3" x2="842.8" y2="1466.3" stroke-width="6.4" stroke-linecap="butt"/>
<path d="M172.1,1468.5 L205.5,1468.5 L201.0,1475.6 L176.6,1475.6 Z" stroke-width="1.6" fill="#000" />
<path d="M263.7,1468.5 L296.5,1468.5 L292.0,1475.6 L268.2,1475.6 Z" stroke-width="1.6" fill="#000" />
<path d="M482,1468.5 L512.8,1468.5 L508.29999999999995,1475.6 L486.5,1475.6 Z" stroke-width="1.6" fill="#000" />
<path d="M698.2,1468.5 L729,1468.5 L724.5,1475.6 L702.7,1475.6 Z" stroke-width="1.6" fill="#000" />
<path d="M789.2,1468.5 L822,1468.5 L817.5,1475.6 L793.7,1475.6 Z" stroke-width="1.6" fill="#000" />
<line x1="207.9" y1="1484.3" x2="789.0" y2="1484.3" stroke-width="7.3" stroke-linecap="butt"/>
<line x1="203.5" y1="1472.0" x2="210.0" y2="1481.5" stroke-width="3.2" stroke-linecap="butt"/>
<line x1="793.5" y1="1472.0" x2="787.0" y2="1481.5" stroke-width="3.2" stroke-linecap="butt"/>
<path d="M209.7,1482 Q212.5,1505 209.7,1530" stroke-width="5.5" fill="none" />
<line x1="783.2" y1="1482.0" x2="783.2" y2="1530.0" stroke-width="5.5" stroke-linecap="butt"/>
<line x1="231.0" y1="1535.9" x2="763.0" y2="1535.9" stroke-width="3.6" stroke-linecap="butt"/>
<rect x="183.3" y="1488.2" width="15.7" height="38.8" rx="0" stroke-width="5.5" fill="#fff"/>
<line x1="199.0" y1="1486.0" x2="199.0" y2="1529.0" stroke-width="9" stroke-linecap="butt"/>
<line x1="184.0" y1="1507.5" x2="196.0" y2="1507.5" stroke-width="5" stroke-linecap="butt"/>
<path d="M182.9,1542 L182.9,1531.7 Q182.9,1529.7 184.9,1529.7 L226.1,1529.7 Q228.1,1529.7 228.1,1531.7 L228.1,1542" stroke-width="5.8" fill="#fff" />
<line x1="193.4" y1="1529.7" x2="193.4" y2="1542.0" stroke-width="5" stroke-linecap="butt"/>
<line x1="217.0" y1="1529.7" x2="217.0" y2="1542.0" stroke-width="5" stroke-linecap="butt"/>
<path d="M354.29999999999995,1542 L354.29999999999995,1531.7 Q354.29999999999995,1529.7 356.29999999999995,1529.7 L396.6,1529.7 Q398.6,1529.7 398.6,1531.7 L398.6,1542" stroke-width="5.8" fill="#fff" />
<line x1="361.4" y1="1529.7" x2="361.4" y2="1542.0" stroke-width="5" stroke-linecap="butt"/>
<line x1="391.5" y1="1529.7" x2="391.5" y2="1542.0" stroke-width="5" stroke-linecap="butt"/>
<path d="M596.9,1542 L596.9,1531.7 Q596.9,1529.7 598.9,1529.7 L638.1,1529.7 Q640.1,1529.7 640.1,1531.7 L640.1,1542" stroke-width="5.8" fill="#fff" />
<line x1="603.8" y1="1529.7" x2="603.8" y2="1542.0" stroke-width="5" stroke-linecap="butt"/>
<line x1="633.2" y1="1529.7" x2="633.2" y2="1542.0" stroke-width="5" stroke-linecap="butt"/>
<path d="M765.9,1542 L765.9,1531.7 Q765.9,1529.7 767.9,1529.7 L808.1,1529.7 Q810.1,1529.7 810.1,1531.7 L810.1,1542" stroke-width="5.8" fill="#fff" />
<line x1="776.1" y1="1529.7" x2="776.1" y2="1542.0" stroke-width="5" stroke-linecap="butt"/>
<line x1="799.2" y1="1529.7" x2="799.2" y2="1542.0" stroke-width="5" stroke-linecap="butt"/>
<rect x="149.5" y="1544.0" width="695.3" height="26.0" rx="0" stroke-width="5.8" fill="#fff"/>
<line x1="146.0" y1="1573.7" x2="848.0" y2="1573.7" stroke-width="10.8" stroke-linecap="round"/>
<path d="M142.7,1575 L142.7,1628 Q142.7,1640 134,1647.5 Q118.9,1660 118.9,1684 L118.9,1825 Q118.9,1849 134,1861.5 Q142.7,1869 142.7,1881 L142.7,1889" stroke-width="5.8" fill="#fff" />
<line x1="142.0" y1="1631.0" x2="832.0" y2="1631.0" stroke-width="4.0" stroke-linecap="butt"/>
<line x1="134.0" y1="1648.5" x2="840.0" y2="1648.5" stroke-width="4.0" stroke-linecap="butt"/>
<line x1="118.9" y1="1683.8" x2="873.0" y2="1683.8" stroke-width="4.0" stroke-linecap="butt"/>
<line x1="118.9" y1="1824.6" x2="873.0" y2="1824.6" stroke-width="4.0" stroke-linecap="butt"/>
<line x1="134.0" y1="1859.7" x2="840.0" y2="1859.7" stroke-width="4.0" stroke-linecap="butt"/>
<line x1="142.0" y1="1877.5" x2="838.0" y2="1877.5" stroke-width="3" stroke-linecap="butt"/>
<line x1="142.0" y1="1882.8" x2="838.0" y2="1882.8" stroke-width="2.6" stroke-linecap="butt"/>
<line x1="144.5" y1="1888.2" x2="846.0" y2="1888.2" stroke-width="7.8" stroke-linecap="round"/>
<rect x="149.5" y="1892.0" width="695.3" height="29.0" rx="0" stroke-width="5.8" fill="#fff"/>
<path d="M182.9,1923 L182.9,1933.6 Q182.9,1936.6 185.9,1936.6 L225.1,1936.6 Q228.1,1936.6 228.1,1933.6 L228.1,1923" stroke-width="5.8" fill="#fff" />
<line x1="193.4" y1="1923.0" x2="193.4" y2="1936.6" stroke-width="5" stroke-linecap="butt"/>
<line x1="217.0" y1="1923.0" x2="217.0" y2="1936.6" stroke-width="5" stroke-linecap="butt"/>
<path d="M354.29999999999995,1923 L354.29999999999995,1933.6 Q354.29999999999995,1936.6 357.29999999999995,1936.6 L395.6,1936.6 Q398.6,1936.6 398.6,1933.6 L398.6,1923" stroke-width="5.8" fill="#fff" />
<line x1="361.4" y1="1923.0" x2="361.4" y2="1936.6" stroke-width="5" stroke-linecap="butt"/>
<line x1="391.5" y1="1923.0" x2="391.5" y2="1936.6" stroke-width="5" stroke-linecap="butt"/>
<path d="M596.9,1923 L596.9,1933.6 Q596.9,1936.6 599.9,1936.6 L637.1,1936.6 Q640.1,1936.6 640.1,1933.6 L640.1,1923" stroke-width="5.8" fill="#fff" />
<line x1="603.8" y1="1923.0" x2="603.8" y2="1936.6" stroke-width="5" stroke-linecap="butt"/>
<line x1="633.2" y1="1923.0" x2="633.2" y2="1936.6" stroke-width="5" stroke-linecap="butt"/>
<path d="M765.9,1923 L765.9,1933.6 Q765.9,1936.6 768.9,1936.6 L807.1,1936.6 Q810.1,1936.6 810.1,1933.6 L810.1,1923" stroke-width="5.8" fill="#fff" />
<line x1="776.1" y1="1923.0" x2="776.1" y2="1936.6" stroke-width="5" stroke-linecap="butt"/>
<line x1="799.2" y1="1923.0" x2="799.2" y2="1936.6" stroke-width="5" stroke-linecap="butt"/>
<path d="M237.4,1924.4 L241.5,1995.1 L751.6,1995.1 L758,1924.4" stroke-width="5.4" fill="none" />
<line x1="232.0" y1="1930.8" x2="763.0" y2="1930.8" stroke-width="3.4" stroke-linecap="butt"/>
<path d="M843,1573.7 Q851,1573.7 851,1583 L851,1587 Q851,1602 866,1602" stroke-width="7.4" fill="none" />
<path d="M864,1603 L934,1603 Q950,1603 950,1586" stroke-width="9.8" fill="none" />
<line x1="846.5" y1="1585.0" x2="846.5" y2="1603.0" stroke-width="4" stroke-linecap="butt"/>
<path d="M842.9,1604 Q836,1612 832.1,1631.6 Q838,1640 853.7,1642.4 Q856,1632 859.1,1623.6 Q848,1618 842.9,1604 Z" stroke-width="3.6" fill="none" />
<path d="M849,1603 Q851,1617 864.5,1622" stroke-width="3.6" fill="none" />
<path d="M864.5,1609.5 L927.8,1609" stroke-width="3.6" fill="none" />
<path d="M860.4,1623.6 L925,1620 Q940,1618 944,1606" stroke-width="4.8" fill="none" />
<path d="M864.5,1610 L865.5,1622" stroke-width="3.6" fill="none" />
<path d="M832.1,1633 Q832,1645 844.3,1647.8 Q852,1647 855,1643" stroke-width="3.6" fill="none" />
<path d="M844.3,1647.8 Q850,1661 850.9,1680 L850.9,1829 Q850,1845 841.5,1855.5 Q836,1864 832.5,1871" stroke-width="3.6" fill="none" />
<path d="M856.4,1643.8 Q866,1654 869.8,1664.4 Q873,1673 873.1,1684 L873.1,1825 Q873,1835 869.8,1844.2 Q865,1855 856.6,1862" stroke-width="3.6" fill="none" />
<path d="M851.4,1673.9 L870.8,1669.6 L945.5,1669.4" stroke-width="3.6" fill="none" />
<path d="M851.4,1834.7 L870.8,1839 L945.5,1838.2" stroke-width="3.6" fill="none" />
<path d="M928.5,1609 Q930,1650 931.5,1690 L931.5,1820 Q931.8,1860 932,1886" stroke-width="3.6" fill="none" />
<ellipse cx="844.5" cy="1873.5" rx="12.6" ry="14.5" fill="#fff" stroke-width="3.8" transform="rotate(20 844.5 1873.5)"/>
<path d="M834,1878 Q842,1866 855,1864" stroke-width="3" fill="none" />
<path d="M837,1884 Q845,1872 856,1870" stroke-width="3" fill="none" />
<path d="M856.6,1884.7 L920,1887 Q944,1888 946,1908" stroke-width="5.0" fill="none" />
<line x1="845.1" y1="1889.0" x2="845.1" y2="1892.0" stroke-width="5" stroke-linecap="butt"/>
<path d="M945.3,1957 L945.3,1560 Q945.3,1550.8 954.5,1550.8 L990,1550.8 L990,1556.4 L954.7,1556.4 L954.7,1957 Z" stroke-width="0.5" fill="#000" />
<line x1="954.0" y1="1585.8" x2="988.0" y2="1585.8" stroke-width="4" stroke-linecap="butt"/>
<line x1="954.0" y1="1922.8" x2="988.0" y2="1922.8" stroke-width="4" stroke-linecap="butt"/>
<line x1="988.0" y1="1551.0" x2="988.0" y2="1956.5" stroke-width="4.5" stroke-linecap="butt"/>
<line x1="946.0" y1="1954.6" x2="990.0" y2="1954.6" stroke-width="5.5" stroke-linecap="butt"/>
</g>
<rect x="3358.2" y="1498.1" width="40.9" height="409.3" rx="0" stroke-width="5.8" fill="#fff"/>
<line x1="3356.0" y1="1527.1" x2="3400.0" y2="1527.1" stroke-width="4.2" stroke-linecap="butt"/>
<line x1="3356.0" y1="1878.4" x2="3400.0" y2="1878.4" stroke-width="4.2" stroke-linecap="butt"/>
<rect x="3303.0" y="1533.5" width="11.0" height="40.4" rx="2" stroke-width="5" fill="#fff"/>
<rect x="3303.0" y="1831.6" width="11.0" height="40.4" rx="2" stroke-width="5" fill="#fff"/>
<path d="M3401,1521.2 L3418,1521.2 L3421.8,1527.5 L3421.8,1580.8 L3418,1587.1 L3401,1587.1" stroke-width="5.4" fill="#fff" />
<line x1="3401.0" y1="1537.9" x2="3420.0" y2="1537.9" stroke-width="5.4" stroke-linecap="butt"/>
<line x1="3401.0" y1="1570.3" x2="3420.0" y2="1570.3" stroke-width="5.4" stroke-linecap="butt"/>
<path d="M3401,1818.7 L3418,1818.7 L3421.8,1825 L3421.8,1878.3 L3418,1884.6 L3401,1884.6" stroke-width="5.4" fill="#fff" />
<line x1="3401.0" y1="1835.4" x2="3420.0" y2="1835.4" stroke-width="5.4" stroke-linecap="butt"/>
<line x1="3401.0" y1="1867.8" x2="3420.0" y2="1867.8" stroke-width="5.4" stroke-linecap="butt"/>
<line x1="3404.8" y1="1590.0" x2="3404.8" y2="1816.0" stroke-width="4" stroke-linecap="butt"/>
<rect x="3371.3" y="1276.8" width="521.5" height="47.0" rx="0" stroke-width="5.9" fill="#fff"/>
<path d="M3453.2,1276 L3453.2,1263.2 L3809.4,1263.2 L3809.4,1276" stroke-width="5" fill="none" />
<line x1="3453.0" y1="1270.0" x2="3809.0" y2="1270.0" stroke-width="3" stroke-linecap="butt"/>
<line x1="3491.1" y1="1324.0" x2="3491.1" y2="1844.3" stroke-width="5.2" stroke-linecap="butt"/>
<line x1="3775.6" y1="1324.0" x2="3775.6" y2="1560.3" stroke-width="5.2" stroke-linecap="butt"/>
<line x1="3489.0" y1="1332.4" x2="3777.0" y2="1332.4" stroke-width="4" stroke-linecap="butt"/>
<line x1="3422.9" y1="1560.3" x2="3775.6" y2="1560.3" stroke-width="4.6" stroke-linecap="butt"/>
<path d="M3775.6,1560.3 A284.5,284 0 0 1 3491.1,1844.3" stroke-width="5.6" fill="none" />
<line x1="3422.9" y1="1844.3" x2="3493.0" y2="1844.3" stroke-width="4.6" stroke-linecap="butt"/>
<rect x="2426.4" y="2220.3" width="875.5" height="18.2" rx="0" stroke-width="5.9" fill="#fff"/>
<rect x="2598.4" y="1943.8" width="531.0" height="19.2" rx="0" stroke-width="5.9" fill="#fff"/>
<line x1="2598.4" y1="1963.9" x2="2444.1" y2="2220.3" stroke-width="5.9" stroke-linecap="butt"/>
<line x1="3130.8" y1="1963.9" x2="3282.7" y2="2220.3" stroke-width="5.9" stroke-linecap="butt"/>
<line x1="2731.6" y1="1986.9" x2="2592.6" y2="2220.3" stroke-width="5.9" stroke-linecap="butt"/>
<line x1="2995.2" y1="1986.9" x2="3135.6" y2="2220.3" stroke-width="5.9" stroke-linecap="butt"/>
<line x1="2854.8" y1="1964.0" x2="2854.8" y2="2220.0" stroke-width="5.4" stroke-linecap="butt"/>
<line x1="2873.9" y1="1964.0" x2="2873.9" y2="2220.0" stroke-width="5.4" stroke-linecap="butt"/>
<rect x="2681.9" y="1965.3" width="64.5" height="20.7" rx="3" stroke-width="5.4" fill="#fff"/>
<line x1="2697.9" y1="1965.0" x2="2697.9" y2="1986.0" stroke-width="5" stroke-linecap="butt"/>
<line x1="2729.4" y1="1965.0" x2="2729.4" y2="1986.0" stroke-width="5" stroke-linecap="butt"/>
<rect x="2981.4" y="1965.3" width="60.7" height="20.7" rx="3" stroke-width="5.4" fill="#fff"/>
<line x1="2997.4" y1="1965.0" x2="2997.4" y2="1986.0" stroke-width="5" stroke-linecap="butt"/>
<line x1="3028.9" y1="1965.0" x2="3028.9" y2="1986.0" stroke-width="5" stroke-linecap="butt"/>
</g>
<g id="dims" stroke-width="4.5">
<line x1="119.5" y1="1690.0" x2="119.5" y2="2437.8" stroke-width="4.5" stroke-linecap="round"/>
<line x1="1850.8" y1="1338.5" x2="1850.8" y2="2439.2" stroke-width="4.5" stroke-linecap="round"/>
<line x1="119.5" y1="2420.0" x2="1850.8" y2="2420.0" stroke-width="4.5" stroke-linecap="butt"/>
<path d="M121.5,2420 L151.5,2413 L151.5,2427 Z" fill="#000" stroke-width="3" stroke-linejoin="round"/>
<path d="M1848.8,2420 L1818.8,2413 L1818.8,2427 Z" fill="#000" stroke-width="3" stroke-linejoin="round"/>
<text transform="translate(985 2403.5) scale(1 1.04)" font-size="57" text-anchor="middle" stroke="none" fill="#000">733</text>
<line x1="470.5" y1="2237.8" x2="798.0" y2="2237.8" stroke-width="4.5" stroke-linecap="round"/>
<line x1="1292.8" y1="2238.2" x2="2053.0" y2="2238.2" stroke-width="4.5" stroke-linecap="round"/>
<line x1="489.1" y1="1997.0" x2="489.1" y2="2237.6" stroke-width="4.5" stroke-linecap="butt"/>
<path d="M489.1,1999 L482.1,2029 L496.1,2029 Z" fill="#000" stroke-width="3" stroke-linejoin="round"/>
<path d="M489.1,2235.6 L482.1,2205.6 L496.1,2205.6 Z" fill="#000" stroke-width="3" stroke-linejoin="round"/>
<text transform="translate(472.5 2116) rotate(-90) scale(1 1.04)" font-size="57" text-anchor="middle" stroke="none" fill="#000">103</text>
<line x1="1226.0" y1="1754.4" x2="1700.5" y2="1754.4" stroke-width="4.5" stroke-linecap="round"/>
<line x1="1682.8" y1="1754.2" x2="1682.8" y2="2238.2" stroke-width="4.5" stroke-linecap="butt"/>
<path d="M1682.8,1754.2 L1675.8,1784.2 L1689.8,1784.2 Z" fill="#000" stroke-width="3" stroke-linejoin="round"/>
<path d="M1682.8,2238 L1675.8,2208 L1689.8,2208 Z" fill="#000" stroke-width="3" stroke-linejoin="round"/>
<text transform="translate(1667 1998) rotate(-90) scale(1 1.04)" font-size="57" text-anchor="middle" stroke="none" fill="#000">205</text>
<line x1="1788.2" y1="1281.0" x2="2052.3" y2="1281.0" stroke-width="4.5" stroke-linecap="round"/>
<line x1="2034.0" y1="1281.0" x2="2034.0" y2="2238.2" stroke-width="4.5" stroke-linecap="butt"/>
<path d="M2034,1281 L2027,1311 L2041,1311 Z" fill="#000" stroke-width="3" stroke-linejoin="round"/>
<path d="M2034,2238 L2027,2208 L2041,2208 Z" fill="#000" stroke-width="3" stroke-linejoin="round"/>
<text transform="translate(2017.5 1760) rotate(-90) scale(1 1.04)" font-size="57" text-anchor="middle" stroke="none" fill="#000">405</text>
<line x1="1590.4" y1="549.8" x2="2565.2" y2="549.8" stroke-width="4.5" stroke-linecap="round"/>
<line x1="1590.4" y1="549.8" x2="1590.4" y2="1260.0" stroke-width="4.5" stroke-linecap="butt"/>
<path d="M1590.4,1279 L1583.4,1249 L1597.4,1249 Z" fill="#000" stroke-width="3" stroke-linejoin="round"/>
<text transform="translate(1622 403.8)" font-size="57.65" text-anchor="start" stroke="none" fill="#000">pump connection bend with</text>
<text transform="translate(1622 468.70000000000005)" font-size="57.65" text-anchor="start" stroke="none" fill="#000">DIN-flange DN 100 - 90°</text>
<text transform="translate(1622 533.6)" font-size="57.65" text-anchor="start" stroke="none" fill="#000">(for installation with coupling system)</text>
<line x1="2426.4" y1="2250.5" x2="2426.4" y2="2428.7" stroke-width="4.5" stroke-linecap="round"/>
<line x1="3893.0" y1="1335.5" x2="3893.0" y2="2428.7" stroke-width="4.5" stroke-linecap="round"/>
<line x1="2426.4" y1="2411.5" x2="3893.0" y2="2411.5" stroke-width="4.5" stroke-linecap="butt"/>
<path d="M2428.4,2411.5 L2458.4,2404.5 L2458.4,2418.5 Z" fill="#000" stroke-width="3" stroke-linejoin="round"/>
<path d="M3891,2411.5 L3861,2404.5 L3861,2418.5 Z" fill="#000" stroke-width="3" stroke-linejoin="round"/>
<text transform="translate(3158 2394.5) scale(1 1.04)" font-size="57" text-anchor="middle" stroke="none" fill="#000">620</text>
<line x1="2290.7" y1="2238.5" x2="2415.3" y2="2238.5" stroke-width="4.5" stroke-linecap="round"/>
<line x1="3311.5" y1="2238.5" x2="4126.8" y2="2238.5" stroke-width="4.5" stroke-linecap="round"/>
<line x1="2290.7" y1="1943.8" x2="2587.9" y2="1943.8" stroke-width="4.5" stroke-linecap="round"/>
<line x1="2309.3" y1="1943.8" x2="2309.3" y2="2238.5" stroke-width="4.5" stroke-linecap="butt"/>
<path d="M2309.3,1944 L2302.3,1974 L2316.3,1974 Z" fill="#000" stroke-width="3" stroke-linejoin="round"/>
<path d="M2309.3,2238.3 L2302.3,2208.3 L2316.3,2208.3 Z" fill="#000" stroke-width="3" stroke-linejoin="round"/>
<text transform="translate(2291.3 2090) rotate(-90) scale(1 1.04)" font-size="57" text-anchor="middle" stroke="none" fill="#000">125</text>
<line x1="3409.2" y1="1702.8" x2="3789.2" y2="1702.8" stroke-width="4.5" stroke-linecap="round"/>
<line x1="3771.0" y1="1702.8" x2="3771.0" y2="2238.5" stroke-width="4.5" stroke-linecap="butt"/>
<path d="M3771,1703 L3764,1733 L3778,1733 Z" fill="#000" stroke-width="3" stroke-linejoin="round"/>
<path d="M3771,2238.3 L3764,2208.3 L3778,2208.3 Z" fill="#000" stroke-width="3" stroke-linejoin="round"/>
<text transform="translate(3754.6 1970.6) rotate(-90) scale(1 1.04)" font-size="57" text-anchor="middle" stroke="none" fill="#000">227</text>
<line x1="3820.0" y1="1263.2" x2="4126.8" y2="1263.2" stroke-width="4.5" stroke-linecap="round"/>
<line x1="4108.4" y1="1263.2" x2="4108.4" y2="2238.5" stroke-width="4.5" stroke-linecap="butt"/>
<path d="M4108.4,1263.4 L4101.4,1293.4 L4115.4,1293.4 Z" fill="#000" stroke-width="3" stroke-linejoin="round"/>
<path d="M4108.4,2238.3 L4101.4,2208.3 L4115.4,2208.3 Z" fill="#000" stroke-width="3" stroke-linejoin="round"/>
<text transform="translate(4094.4 1751) rotate(-90) scale(1 1.04)" font-size="57" text-anchor="middle" stroke="none" fill="#000">413</text>
<line x1="2626.7" y1="230.5" x2="3632.1" y2="230.5" stroke-width="4.5" stroke-linecap="round"/>
<line x1="3632.1" y1="230.5" x2="3632.1" y2="1245.0" stroke-width="4.5" stroke-linecap="butt"/>
<path d="M3632.1,1260 L3625.1,1230 L3639.1,1230 Z" fill="#000" stroke-width="3" stroke-linejoin="round"/>
<text transform="translate(2627.5 85.3)" font-size="57.75" text-anchor="start" stroke="none" fill="#000">pump connection bend with</text>
<text transform="translate(2627.5 149.5)" font-size="57.75" text-anchor="start" stroke="none" fill="#000">DIN-flange DN 100 - 90°</text>
<text transform="translate(2627.5 213.7)" font-size="57.75" text-anchor="start" stroke="none" fill="#000">(for installation with base support ring)</text>
</g>
</svg>
</body></html>
